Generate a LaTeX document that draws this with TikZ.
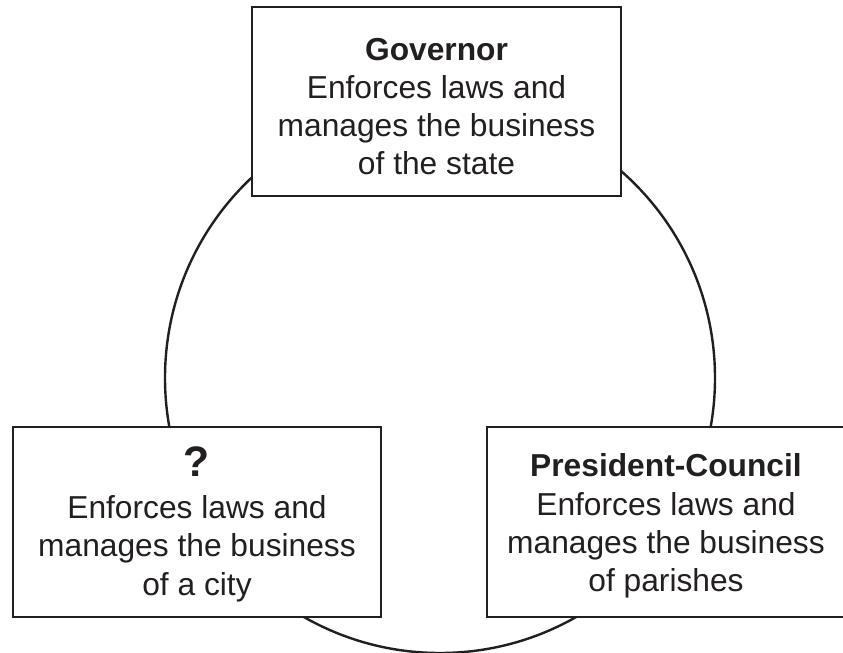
\documentclass[tikz,border=0pt]{standalone}
\usepackage{fontspec}
\setmainfont{Liberation Sans}
\definecolor{ink}{HTML}{231F20}
\begin{document}
\begin{tikzpicture}[x=0.75pt,y=-0.75pt,
  box/.style={draw=ink, line width=1.5pt, fill=white, inner sep=0pt},
  boxtext/.style={inner sep=0pt, align=center, text=ink,
    font=\fontsize{23.8}{28.7}\selectfont},
  ringstyle/.style={circle, draw=ink, line width=1.8pt, inner sep=0pt}]
\useasboundingbox (0,0) rectangle (843,653);
\node[ringstyle, minimum size=412.5pt] (ring) at (440,378) {};
\node[box, minimum width=276.75pt, minimum height=141.75pt] (gov) at (436.5,101.5) {};
\node[box, minimum width=276pt, minimum height=142.5pt] (city) at (197,522) {};
\node[box, minimum width=268.5pt, minimum height=142.5pt] (parish) at (666,522) {};
\node[boxtext, yshift=-3.75pt] (govtext) at (gov.center)
  {\textbf{Governor}\\Enforces laws and\\manages the business\\of the state};
\node[boxtext, yshift=-1.5pt] (citytext) at (city.center)
  {{\fontsize{32}{32}\selectfont\bfseries ?}\\[3pt]Enforces laws and\\manages the business\\of a city};
\node[boxtext, yshift=-3pt] (parishtext) at (parish.center)
  {\textbf{President-Council}\\Enforces laws and\\manages the business\\of parishes};
\end{tikzpicture}
\end{document}
